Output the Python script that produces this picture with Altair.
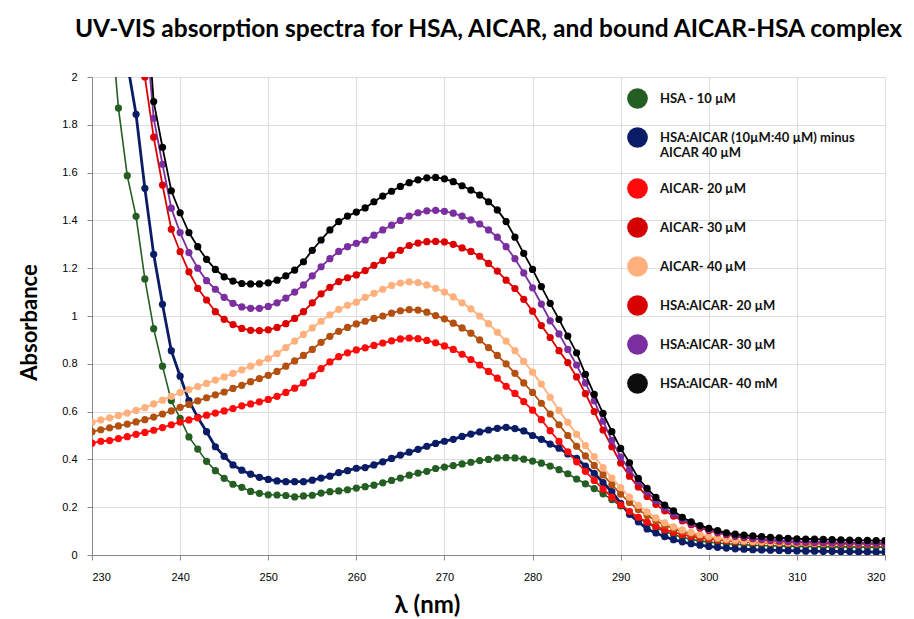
import altair as alt
import pandas as pd

# Sampled wavelengths (nm), one reading per nm
wavelengths = list(range(230, 321))

# Absorbance readings, one row of ten per decade (230-239, 240-249, ... 320).
# None marks readings that lie far above the plotted range.
hsa_10 = [
    None, None, 2.3, 1.87, 1.587, 1.417, 1.155, 0.947, 0.79, 0.646,
    0.572, 0.494, 0.443, 0.392, 0.353, 0.321, 0.296, 0.283, 0.266, 0.258,
    0.252, 0.251, 0.249, 0.243, 0.247, 0.25, 0.259, 0.265, 0.268, 0.273,
    0.28, 0.286, 0.292, 0.302, 0.312, 0.322, 0.334, 0.343, 0.35, 0.362,
    0.368, 0.374, 0.381, 0.388, 0.395, 0.4, 0.406, 0.407, 0.406, 0.401,
    0.393, 0.384, 0.372, 0.357, 0.34, 0.318, 0.298, 0.278, 0.256, 0.232,
    0.205, 0.18, 0.155, 0.133, 0.114, 0.098, 0.085, 0.074, 0.066, 0.059,
    0.054, 0.05, 0.047, 0.045, 0.043, 0.041, 0.04, 0.039, 0.038, 0.037,
    0.036, 0.036, 0.035, 0.035, 0.034, 0.034, 0.034, 0.033, 0.033, 0.033,
    0.033,
]
hsa_aicar_minus_aicar = [
    None, None, None, None, 2.06, 1.844, 1.534, 1.258, 1.049, 0.855,
    0.748, 0.646, 0.576, 0.516, 0.453, 0.413, 0.377, 0.355, 0.338, 0.325,
    0.316, 0.31, 0.307, 0.307, 0.307, 0.313, 0.322, 0.33, 0.345, 0.353,
    0.363, 0.366, 0.377, 0.39, 0.404, 0.418, 0.43, 0.442, 0.455, 0.467,
    0.476, 0.484, 0.496, 0.506, 0.515, 0.523, 0.53, 0.534, 0.529, 0.519,
    0.5, 0.484, 0.464, 0.447, 0.423, 0.404, 0.372, 0.342, 0.303, 0.265,
    0.216, 0.17, 0.139, 0.109, 0.092, 0.077, 0.064, 0.055, 0.047, 0.041,
    0.036, 0.032, 0.029, 0.026, 0.024, 0.022, 0.021, 0.02, 0.019, 0.018,
    0.017, 0.016, 0.016, 0.015, 0.015, 0.014, 0.014, 0.013, 0.013, 0.012,
    0.012,
]
aicar_20 = [
    0.468, 0.476, 0.479, 0.487, 0.495, 0.505, 0.513, 0.522, 0.533, 0.545,
    0.556, 0.565, 0.574, 0.585, 0.594, 0.603, 0.613, 0.624, 0.632, 0.641,
    0.651, 0.664, 0.68, 0.698, 0.72, 0.75, 0.78, 0.808, 0.83, 0.846,
    0.858, 0.867, 0.877, 0.887, 0.896, 0.904, 0.908, 0.905, 0.898, 0.888,
    0.875, 0.86, 0.84, 0.818, 0.795, 0.768, 0.74, 0.706, 0.676, 0.642,
    0.606, 0.566, 0.52, 0.475, 0.432, 0.39, 0.35, 0.312, 0.276, 0.242,
    0.21, 0.182, 0.158, 0.138, 0.12, 0.106, 0.095, 0.086, 0.078, 0.072,
    0.067, 0.063, 0.06, 0.057, 0.055, 0.053, 0.052, 0.051, 0.05, 0.049,
    0.049, 0.048, 0.048, 0.048, 0.047, 0.047, 0.047, 0.046, 0.046, 0.046,
    0.046,
]
aicar_30 = [
    0.516, 0.524, 0.532, 0.54, 0.548, 0.557, 0.566, 0.577, 0.59, 0.603,
    0.618, 0.63, 0.645, 0.658, 0.67, 0.682, 0.697, 0.71, 0.725, 0.738,
    0.752, 0.768, 0.79, 0.812, 0.835, 0.86, 0.89, 0.915, 0.936, 0.952,
    0.967, 0.978, 0.99, 1.0, 1.012, 1.022, 1.027, 1.025, 1.016, 1.002,
    0.988, 0.97, 0.95, 0.928, 0.9, 0.868, 0.835, 0.8, 0.76, 0.72,
    0.68, 0.635, 0.59, 0.545, 0.5, 0.455, 0.415, 0.375, 0.335, 0.295,
    0.255, 0.22, 0.19, 0.165, 0.143, 0.125, 0.11, 0.098, 0.088, 0.08,
    0.073, 0.068, 0.064, 0.06, 0.057, 0.055, 0.053, 0.052, 0.051, 0.05,
    0.049, 0.049, 0.048, 0.048, 0.048, 0.047, 0.047, 0.047, 0.047, 0.046,
    0.046,
]
aicar_40 = [
    0.555, 0.565, 0.574, 0.584, 0.594, 0.605, 0.617, 0.632, 0.648, 0.664,
    0.68, 0.692, 0.705, 0.718, 0.732, 0.745, 0.76, 0.775, 0.79, 0.805,
    0.822, 0.843, 0.868, 0.895, 0.923, 0.95, 0.978, 1.005, 1.028, 1.045,
    1.058, 1.078, 1.095, 1.112, 1.128, 1.138, 1.143, 1.14, 1.13, 1.116,
    1.1, 1.08, 1.055, 1.03, 1.0, 0.968, 0.932, 0.895, 0.855, 0.81,
    0.765, 0.715, 0.66, 0.605, 0.555, 0.505, 0.458, 0.412, 0.366, 0.322,
    0.282, 0.242, 0.208, 0.18, 0.155, 0.135, 0.118, 0.105, 0.095, 0.086,
    0.078, 0.071, 0.066, 0.062, 0.059, 0.057, 0.055, 0.053, 0.052, 0.051,
    0.05, 0.05, 0.049, 0.049, 0.048, 0.048, 0.048, 0.047, 0.047, 0.047,
    0.047,
]
hsa_aicar_20 = [
    None, None, None, None, None, 2.3, 2.0, 1.748, 1.548, 1.363,
    1.269, 1.185, 1.116, 1.067, 1.018, 0.986, 0.964, 0.948, 0.94, 0.939,
    0.942, 0.952, 0.968, 0.99, 1.018, 1.055, 1.093, 1.12, 1.144, 1.16,
    1.172, 1.19, 1.212, 1.232, 1.255, 1.275, 1.295, 1.305, 1.311, 1.312,
    1.31, 1.3, 1.285, 1.27, 1.25, 1.22, 1.188, 1.15, 1.115, 1.07,
    1.02, 0.96, 0.91, 0.855, 0.805, 0.745, 0.675, 0.6, 0.523, 0.453,
    0.385, 0.33, 0.285, 0.245, 0.212, 0.185, 0.163, 0.143, 0.127, 0.113,
    0.102, 0.093, 0.085, 0.078, 0.073, 0.068, 0.064, 0.061, 0.058, 0.056,
    0.054, 0.053, 0.052, 0.051, 0.05, 0.049, 0.049, 0.048, 0.048, 0.047,
    0.047,
]
hsa_aicar_30 = [
    None, None, None, None, None, None, 2.25, 1.827, 1.635, 1.451,
    1.349, 1.265, 1.2, 1.148, 1.112, 1.078, 1.053, 1.038, 1.032, 1.032,
    1.04, 1.055, 1.075, 1.1, 1.13, 1.168, 1.206, 1.24, 1.27, 1.29,
    1.304, 1.318, 1.338, 1.36, 1.38, 1.4, 1.418, 1.432, 1.44, 1.442,
    1.438, 1.43, 1.418, 1.402, 1.385, 1.36, 1.33, 1.29, 1.24, 1.18,
    1.118, 1.05, 0.98, 0.925, 0.86, 0.795, 0.72, 0.645, 0.56, 0.48,
    0.41, 0.356, 0.308, 0.265, 0.228, 0.197, 0.172, 0.15, 0.132, 0.118,
    0.106, 0.096, 0.088, 0.081, 0.076, 0.071, 0.067, 0.064, 0.061, 0.059,
    0.057, 0.056, 0.055, 0.054, 0.053, 0.052, 0.052, 0.051, 0.051, 0.05,
    0.05,
]
hsa_aicar_40 = [
    None, None, None, None, None, None, 2.4, 1.897, 1.706, 1.524,
    1.432, 1.349, 1.29, 1.237, 1.195, 1.164, 1.146, 1.136, 1.134, 1.134,
    1.139, 1.15, 1.168, 1.192, 1.227, 1.275, 1.318, 1.36, 1.395, 1.418,
    1.435, 1.452, 1.478, 1.502, 1.522, 1.542, 1.558, 1.57, 1.578, 1.58,
    1.574, 1.562, 1.545, 1.527, 1.506, 1.478, 1.444, 1.395, 1.33, 1.262,
    1.195, 1.123, 1.053, 0.986, 0.916, 0.846, 0.756, 0.672, 0.593, 0.516,
    0.446, 0.386, 0.321, 0.279, 0.241, 0.209, 0.185, 0.158, 0.139, 0.123,
    0.112, 0.102, 0.093, 0.087, 0.083, 0.08, 0.077, 0.074, 0.072, 0.07,
    0.068, 0.067, 0.066, 0.065, 0.064, 0.063, 0.062, 0.061, 0.061, 0.06,
    0.06,
]

series_names = [
    "HSA - 10 \u00b5M",
    "HSA:AICAR (10\u00b5M:40 \u00b5M) minus\nAICAR 40 \u00b5M",
    "AICAR- 20 \u00b5M",
    "AICAR- 30 \u00b5M",
    "AICAR- 40 \u00b5M",
    "HSA:AICAR- 20 \u00b5M",
    "HSA:AICAR- 30 \u00b5M",
    "HSA:AICAR- 40 mM",
]
series_values = [
    hsa_10, hsa_aicar_minus_aicar, aicar_20, aicar_30,
    aicar_40, hsa_aicar_20, hsa_aicar_30, hsa_aicar_40,
]
line_colors = ["#245e22", "#0b1c66", "#ff0a0a", "#b4500f",
               "#ffb07c", "#dc0000", "#7b2ea0", "#000000"]
legend_colors = ["#245e22", "#0b1c66", "#ff0a0a", "#d40000",
                 "#ffb07c", "#d80000", "#7b2ea0", "#0d0d0d"]
line_widths = [1.6, 2.8, 1.8, 1.8, 1.8, 1.8, 1.8, 1.8]

rows = []
for name, vals in zip(series_names, series_values):
    for wl, a in zip(wavelengths, vals):
        if a is not None:
            rows.append({"wl": wl, "A": a, "series": name})
df = pd.DataFrame(rows)

FONT = "Lato"

x_enc = alt.X(
    "wl:Q",
    scale=alt.Scale(domain=[230, 320], nice=False, zero=False),
    axis=alt.Axis(
        values=list(range(230, 321, 10)),
        title="\u03bb (nm)",
        titleFontSize=24, titleFont=FONT, titleFontWeight="bold",
        titleX=335, titleY=50, titleBaseline="middle", titleAlign="center",
        labelFontSize=11, labelPadding=11,
    ),
)
y_enc = alt.Y(
    "A:Q",
    scale=alt.Scale(domain=[0, 2], nice=False),
    axis=alt.Axis(
        values=[0, 0.2, 0.4, 0.6, 0.8, 1.0, 1.2, 1.4, 1.6, 1.8, 2.0],
        format=".1~f",
        title="Absorbance",
        titleFontSize=22, titleFont=FONT, titleFontWeight="bold",
        titleX=-63, titleY=245, titleAngle=-90,
        titleBaseline="middle", titleAlign="center",
        labelFontSize=11, labelPadding=10,
    ),
)

base = alt.Chart(df)
layers = []
for name, lc, lw in zip(series_names, line_colors, line_widths):
    sub = base.transform_filter(alt.datum.series == name)
    layers.append(
        sub.mark_line(color=lc, strokeWidth=lw, clip=True).encode(x=x_enc, y=y_enc)
    )
    layers.append(
        sub.mark_point(filled=True, color=lc, size=52, opacity=1, clip=True)
        .encode(x=x_enc, y=y_enc)
    )

# Legend carrier: no visible marks, only the legend built from the domain
legend_layer = base.transform_filter("false").mark_point(filled=True).encode(
    x=x_enc,
    y=y_enc,
    color=alt.Color(
        "series:N",
        scale=alt.Scale(domain=series_names, range=legend_colors),
        legend=alt.Legend(
            title=None, orient="none", legendX=535, legendY=11,
            symbolType="circle", symbolSize=430, symbolStrokeWidth=0,
            symbolOpacity=1,
            labelFont=FONT, labelFontWeight="bold", labelFontSize=13,
            labelColor="#111111", labelLimit=330, labelOffset=12,
            rowPadding=18,
            labelExpr="split(datum.label, '\\n')",
        ),
    ),
)

chart = (
    alt.layer(*layers, legend_layer)
    .properties(
        width=793,
        height=478,
        padding={"left": 92, "top": 77, "right": 29, "bottom": 64},
        autosize=alt.AutoSizeParams(type="none"),
        title=alt.TitleParams(
            "UV-VIS absorption spectra for HSA,  AICAR, and bound AICAR-HSA complex",
            font=FONT, fontSize=24.5, fontWeight="bold", color="#000000",
            anchor="middle", offset=29,
        ),
    )
    .configure_view(stroke="#5b9bd5", strokeWidth=2)
    .configure_axis(
        grid=True, gridColor="#d8e0eb", gridWidth=2,
        domainColor="#c6d3e3", domainWidth=2,
        ticks=False,
        labelFont=FONT, labelColor="#222222",
        titleColor="#000000",
    )
    .configure(background="white")
)

chart.save("out.html", embed_options={"renderer": "svg", "actions": False})
